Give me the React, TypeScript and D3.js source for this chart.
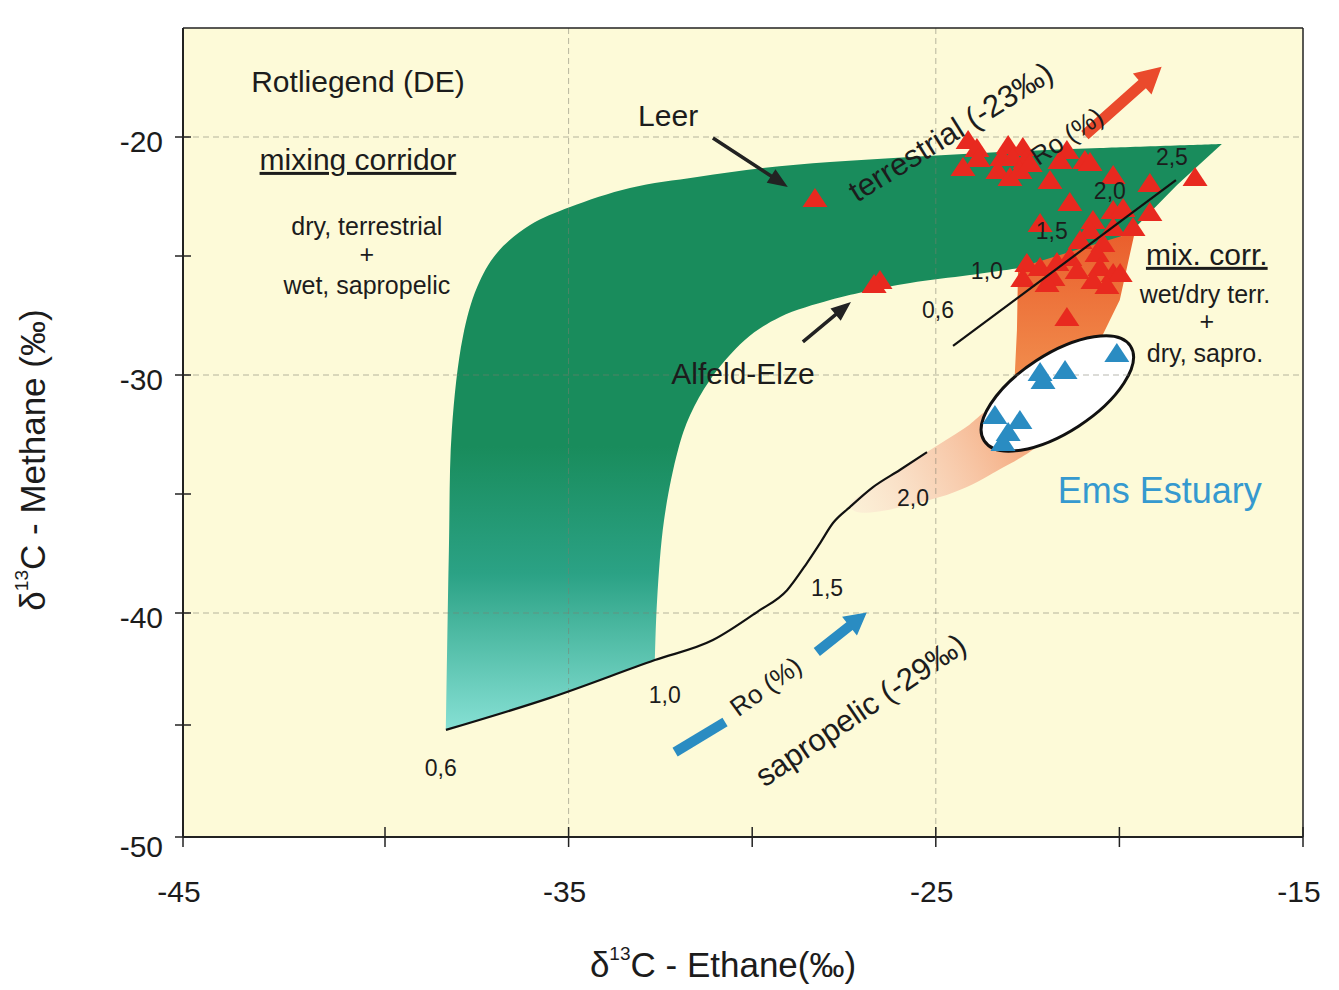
import * as d3 from 'd3'

type P = [number, number]

// axis breaks (the scan is slightly stretched)
const X_DOMAIN = [-45, -40, -15]
const Y_DOMAIN = [-50, -40, -15.42]
const X_TICKS = [-45, -40, -35, -30, -25, -20, -15]
const X_TICK_LABELS = [-45, -35, -25, -15]
const Y_TICKS = [-50, -45, -40, -35, -30, -25, -20]
const Y_TICK_LABELS = [-50, -40, -30, -20]
const GRID_X = [-35, -25]
const GRID_Y = [-40, -30, -20]

// Rotliegend (DE) gases: d13C ethane, d13C methane
const ROTLIEGEND_GAS: P[] = [
  [-24.12, -20.13], [-23.88, -20.46], [-23.85, -20.88], [-24.26, -21.26],
  [-23.03, -20.34], [-22.63, -20.42], [-23.2, -20.84], [-22.9, -20.84],
  [-22.57, -20.97], [-23.31, -21.39], [-22.98, -21.68], [-22.71, -21.39],
  [-22.43, -21.09], [-21.43, -20.55], [-21.62, -20.97], [-20.94, -20.97],
  [-21.89, -21.81], [-21.35, -22.73], [-22.16, -23.61], [-20.8, -21.05],
  [-20.17, -21.6], [-19.17, -21.93], [-17.94, -21.68], [-20.72, -23.49],
  [-20.17, -23.07], [-19.9, -22.98], [-19.17, -23.15], [-20.8, -23.91],
  [-20.17, -23.78], [-19.63, -23.78], [-21.07, -24.33], [-20.45, -24.45],
  [-22.52, -25.29], [-22.16, -25.46], [-22.63, -25.92], [-21.7, -25.25],
  [-21.35, -25.04], [-21.15, -25.59], [-20.61, -24.87], [-20.53, -25.46],
  [-20.17, -25.71], [-19.98, -25.71], [-20.72, -26.01], [-20.34, -26.22],
  [-21.81, -25.88], [-21.97, -26.13], [-21.43, -27.56],
  [-28.29, -22.56], // Leer
  [-26.52, -26.01], [-26.68, -26.18], // Alfeld-Elze
]

// Ems Estuary gases
const EMS_GAS: P[] = [
  [-20.07, -29.08], [-22.16, -29.87], [-22.08, -30.21], [-21.48, -29.79],
  [-23.39, -31.68], [-22.71, -31.89], [-23.03, -32.39], [-23.17, -32.82],
]

// green mixing corridor: outer edge, right end, inner edge
const CORRIDOR_OUTER: P[] = [
  [-38.34, -45.22], [-38.26, -37.35], [-38.18, -32.31], [-37.88, -28.4],
  [-37.49, -26.3], [-36.95, -24.87], [-36.05, -23.7], [-34.96, -22.94],
  [-33.33, -22.14], [-31.5, -21.68], [-29.71, -21.3], [-27.88, -21.05],
  [-25.7, -20.84], [-23.25, -20.63], [-20.53, -20.46], [-17.21, -20.29],
]
const CORRIDOR_END: P[] = [
  [-17.21, -20.29], [-18.43, -22.02], [-19.58, -23.82], [-20.53, -24.75],
  [-21.62, -25.25], [-22.71, -25.5],
]
const CORRIDOR_INNER: P[] = [
  [-22.71, -25.5], [-24.07, -25.8], [-25.7, -26.13], [-26.98, -26.51],
  [-27.88, -26.85], [-29.24, -27.56], [-30.2, -28.53], [-31.15, -30.21],
  [-31.69, -31.68], [-32.02, -33.15], [-32.4, -36.09], [-32.59, -39.46],
  [-32.65, -42.1],
]

// sapropelic maturity trend and its Ro (%) marks
const SAPROPELIC_TREND: P[] = [
  [-38.34, -45.22], [-35.51, -43.79], [-32.65, -42.1], [-31.07, -41.21],
  [-29.87, -39.96], [-29.05, -39.04], [-28.51, -37.9], [-28.15, -37.06],
  [-27.8, -36.22], [-27.34, -35.55], [-26.71, -34.71], [-25.98, -33.99],
  [-25.24, -33.24],
]
const SAPROPELIC_RO = ['0,6', '1,0', '1,5', '2,0']
const SAPROPELIC_RO_AT: P[] = [[-38.48, -47.01], [-32.38, -43.75], [-27.96, -39.04], [-25.62, -35.25]]

// terrestrial maturity trend and its Ro (%) marks
const TERRESTRIAL_TREND: P[] = [[-24.53, -28.78], [-18.46, -21.81]]
const TERRESTRIAL_RO = ['0,6', '1,0', '1,5', '2,0', '2,5']
const TERRESTRIAL_RO_AT: P[] = [[-24.94, -27.35], [-23.61, -25.71], [-21.84, -24.03], [-20.26, -22.35], [-18.57, -20.92]]

// wet/dry terrestrial + dry sapropelic corridor
const MIXED_CORRIDOR: P[] = [
  [-22.76, -25.5], [-19.58, -23.99], [-19.99, -26.85], [-20.59, -28.74],
  [-21.62, -30.21], [-22.71, -31.47], [-23.25, -31.81], [-22.85, -30.0],
  [-22.79, -28.11],
]
const MIXED_TAIL: P[] = [
  [-23.25, -31.26], [-22.03, -32.52], [-23.53, -34.2], [-24.89, -35.13],
  [-27.15, -35.76], [-27.34, -35.46], [-26.71, -34.71], [-25.24, -33.24],
  [-24.21, -32.23],
]
const EMS_ENVELOPE: P[] = [[-23.68, -32.77], [-19.7, -28.78]]

// arrows: from, to
const RED_RO_ARROW: P[] = [[-20.94, -19.92], [-18.85, -17.05]]
const BLUE_RO_DASH: P[] = [[-32.1, -46.21], [-30.74, -44.87]]
const BLUE_RO_ARROW: P[] = [[-28.24, -41.74], [-26.88, -39.98]]
const LEER_ARROW: P[] = [[-31.07, -20.04], [-29.03, -22.1]]
const ALFELD_ARROW: P[] = [[-28.62, -28.61], [-27.31, -26.93]]

const FONT = '"Liberation Sans", Arial, sans-serif'
const INK = '#1c1c1c'

function arrowPoints(a: P, b: P, bodyW: number, headL: number, headW: number) {
  const dx = b[0] - a[0]
  const dy = b[1] - a[1]
  const len = Math.hypot(dx, dy)
  const ux = dx / len
  const uy = dy / len
  const nx = -uy
  const ny = ux
  const bx = b[0] - ux * headL
  const by = b[1] - uy * headL
  const pts: P[] = [
    [a[0] + (nx * bodyW) / 2, a[1] + (ny * bodyW) / 2],
    [bx + (nx * bodyW) / 2, by + (ny * bodyW) / 2],
    [bx + (nx * headW) / 2, by + (ny * headW) / 2],
    [b[0], b[1]],
    [bx - (nx * headW) / 2, by - (ny * headW) / 2],
    [bx - (nx * bodyW) / 2, by - (ny * bodyW) / 2],
    [a[0] - (nx * bodyW) / 2, a[1] - (ny * bodyW) / 2],
  ]
  return pts.map((p) => p.join(',')).join(' ')
}

function triangle(cx: number, cy: number) {
  return `M${cx},${cy - 10}L${cx + 12.5},${cy + 9}L${cx - 12.5},${cy + 9}Z`
}

export default function App() {
  const width = 1339
  const height = 990
  const x = d3.scaleLinear(X_DOMAIN, [183, 385, 1303])
  const y = d3.scaleLinear(Y_DOMAIN, [837, 613, 28])
  const x0 = x(-45)
  const x1 = x(-15)
  const yBottom = y(-50)
  const yTop = y(-15.42)

  const px = (p: P): P => [x(p[0]), y(p[1])]
  const smooth = d3.line<P>().x((d) => x(d[0])).y((d) => y(d[1])).curve(d3.curveCatmullRom.alpha(0.5))
  const straight = d3.line<P>().x((d) => x(d[0])).y((d) => y(d[1]))
  const trend = d3.line<P>().x((d) => x(d[0])).y((d) => y(d[1])).curve(d3.curveMonotoneX)

  const bottomEdge = SAPROPELIC_TREND.slice(0, 3).reverse()
  const corridorPath =
    (smooth(CORRIDOR_OUTER) ?? '') +
    (straight(CORRIDOR_END) ?? '').replace(/^M/, 'L') +
    (smooth(CORRIDOR_INNER) ?? '').replace(/^M/, 'L') +
    (straight(bottomEdge) ?? '').replace(/^M/, 'L') +
    'Z'

  const mixedPath = d3.line<P>().x((d) => x(d[0])).y((d) => y(d[1])).curve(d3.curveLinearClosed)(MIXED_CORRIDOR) ?? ''
  const tailPath = d3.line<P>().x((d) => x(d[0])).y((d) => y(d[1])).curve(d3.curveCatmullRomClosed.alpha(0.5))(MIXED_TAIL) ?? ''

  const [e1, e2] = EMS_ENVELOPE.map(px)
  const ecx = (e1[0] + e2[0]) / 2
  const ecy = (e1[1] + e2[1]) / 2
  const erx = Math.hypot(e2[0] - e1[0], e2[1] - e1[1]) / 2
  const eAngle = (Math.atan2(e2[1] - e1[1], e2[0] - e1[0]) * 180) / Math.PI

  const [tailA, tailB] = [px([-22.9, -32.4]), px([-27.2, -35.7])]

  const label = (p: P) => ({ x: x(p[0]), y: y(p[1]) })

  return (
    <svg
      width={width}
      height={height}
      style={{ position: 'absolute', left: 0, top: 0, background: '#fff', fontFamily: FONT }}
    >
      <defs>
        <linearGradient id="corridorFill" gradientUnits="userSpaceOnUse" x1={0} y1={y(-33)} x2={0} y2={y(-45.2)}>
          <stop offset="0" stopColor="#198c5c" />
          <stop offset="0.45" stopColor="#2ba285" />
          <stop offset="1" stopColor="#86e0d4" />
        </linearGradient>
        <linearGradient id="mixedFill" gradientUnits="userSpaceOnUse" x1={0} y1={y(-24)} x2={0} y2={y(-31)}>
          <stop offset="0" stopColor="#ea5e2c" />
          <stop offset="1" stopColor="#f29452" />
        </linearGradient>
        <linearGradient id="tailFill" gradientUnits="userSpaceOnUse" x1={tailA[0]} y1={tailA[1]} x2={tailB[0]} y2={tailB[1]}>
          <stop offset="0" stopColor="#f4a478" stopOpacity="0.9" />
          <stop offset="0.55" stopColor="#f6bfa8" stopOpacity="0.6" />
          <stop offset="1" stopColor="#f7d0cf" stopOpacity="0.25" />
        </linearGradient>
      </defs>

      {/* plot area */}
      <rect x={x0} y={yTop} width={x1 - x0} height={yBottom - yTop} fill="#fdfad8" />

      {/* mixing corridor */}
      <path d={corridorPath} fill="url(#corridorFill)" />
      <path d={mixedPath} fill="url(#mixedFill)" />
      <path d={tailPath} fill="url(#tailFill)" />

      {/* Ems Estuary envelope */}
      <ellipse
        cx={ecx}
        cy={ecy}
        rx={erx}
        ry={39}
        transform={`rotate(${eAngle} ${ecx} ${ecy})`}
        fill="#ffffff"
        stroke="#111"
        strokeWidth={3}
      />

      {/* grid */}
      <g stroke="#7d7d70" strokeOpacity={0.55} strokeDasharray="6,4" strokeWidth={1}>
        {GRID_X.map((v) => (
          <line key={`gx${v}`} x1={x(v)} x2={x(v)} y1={yTop} y2={yBottom} />
        ))}
        {GRID_Y.map((v) => (
          <line key={`gy${v}`} x1={x0} x2={x1} y1={y(v)} y2={y(v)} />
        ))}
      </g>

      {/* samples */}
      <g fill="#e8291f">
        {ROTLIEGEND_GAS.map((d, i) => (
          <path key={`r${i}`} d={triangle(x(d[0]), y(d[1]))} />
        ))}
      </g>
      <g fill="#2a8cc2">
        {EMS_GAS.map((d, i) => (
          <path key={`b${i}`} d={triangle(x(d[0]), y(d[1]))} />
        ))}
      </g>

      {/* maturity trends */}
      <path d={trend(SAPROPELIC_TREND) ?? ''} fill="none" stroke="#111" strokeWidth={2.2} />
      <path d={straight(TERRESTRIAL_TREND) ?? ''} fill="none" stroke="#111" strokeWidth={2.2} />
      <g fontSize={23} fill={INK} textAnchor="middle" dominantBaseline="middle">
        {SAPROPELIC_RO.map((t, i) => (
          <text key={`s${t}`} {...label(SAPROPELIC_RO_AT[i])}>{t}</text>
        ))}
        {TERRESTRIAL_RO.map((t, i) => (
          <text key={`t${t}`} {...label(TERRESTRIAL_RO_AT[i])}>{t}</text>
        ))}
      </g>

      {/* arrows */}
      <polygon points={arrowPoints(px(RED_RO_ARROW[0]), px(RED_RO_ARROW[1]), 11, 26, 28)} fill="#ea4a2c" />
      <polygon points={arrowPoints(px(BLUE_RO_ARROW[0]), px(BLUE_RO_ARROW[1]), 10, 22, 24)} fill="#2a8cc2" />
      <line
        x1={x(BLUE_RO_DASH[0][0])}
        y1={y(BLUE_RO_DASH[0][1])}
        x2={x(BLUE_RO_DASH[1][0])}
        y2={y(BLUE_RO_DASH[1][1])}
        stroke="#2a8cc2"
        strokeWidth={10}
      />
      <polygon points={arrowPoints(px(LEER_ARROW[0]), px(LEER_ARROW[1]), 3.5, 20, 16)} fill="#222" />
      <polygon points={arrowPoints(px(ALFELD_ARROW[0]), px(ALFELD_ARROW[1]), 3.5, 20, 16)} fill="#222" />

      {/* annotations */}
      <g fill={INK} textAnchor="middle" dominantBaseline="middle">
        <text {...label([-40.67, -17.77])} fontSize={30}>Rotliegend (DE)</text>
        <text {...label([-40.67, -21.05])} fontSize={30} textDecoration="underline">mixing corridor</text>
        <text {...label([-40.45, -23.82])} fontSize={25}>dry, terrestrial</text>
        <text {...label([-40.45, -25.0])} fontSize={25}>+</text>
        <text {...label([-40.45, -26.3])} fontSize={25}>wet, sapropelic</text>
        <text {...label([-32.29, -19.2])} fontSize={30}>Leer</text>
        <text {...label([-30.25, -30.04])} fontSize={30}>Alfeld-Elze</text>
        <text {...label([-17.62, -25.04])} fontSize={30} textDecoration="underline">mix. corr.</text>
        <text {...label([-17.67, -26.68])} fontSize={25}>wet/dry terr.</text>
        <text {...label([-17.62, -27.82])} fontSize={25}>+</text>
        <text {...label([-17.67, -29.16])} fontSize={25}>dry, sapro.</text>
        <text {...label([-18.9, -34.96])} fontSize={36} fill="#3599cf">Ems Estuary</text>
        <text
          {...label([-24.56, -19.87])}
          fontSize={31}
          transform={`rotate(-32 ${x(-24.56)} ${y(-19.87)})`}
        >
          terrestrial (-23‰)
        </text>
        <text
          {...label([-21.4, -20.04])}
          fontSize={26}
          transform={`rotate(-34 ${x(-21.4)} ${y(-20.04)})`}
        >
          Ro (%)
        </text>
        <text
          {...label([-29.6, -43.35])}
          fontSize={26}
          transform={`rotate(-36 ${x(-29.6)} ${y(-43.35)})`}
        >
          Ro (%)
        </text>
        <text
          {...label([-27.01, -44.42])}
          fontSize={31}
          transform={`rotate(-34 ${x(-27.01)} ${y(-44.42)})`}
        >
          sapropelic (-29‰)
        </text>
      </g>

      {/* frame */}
      <g fill="none" stroke="#222">
        <line x1={x0} x2={x1} y1={yTop} y2={yTop} strokeWidth={1.5} />
        <line x1={x1} x2={x1} y1={yTop} y2={yBottom} strokeWidth={1.5} />
        <line x1={x0} x2={x0} y1={yTop} y2={yBottom} strokeWidth={2} />
        <line x1={x0} x2={x1} y1={yBottom} y2={yBottom} strokeWidth={2} />
      </g>

      {/* axes */}
      <g stroke="#222" strokeWidth={1.5}>
        {X_TICKS.map((v) => (
          <line key={`xt${v}`} x1={x(v)} x2={x(v)} y1={yBottom - 10} y2={yBottom + 10} />
        ))}
        {Y_TICKS.map((v) => (
          <line key={`yt${v}`} x1={x0 - 8} x2={x0 + 8} y1={y(v)} y2={y(v)} />
        ))}
      </g>
      <g fontSize={30} fill={INK}>
        {X_TICK_LABELS.map((v) => (
          <text key={`xl${v}`} x={x(v) - 4} y={yBottom + 57} textAnchor="middle" dominantBaseline="middle">
            {v}
          </text>
        ))}
        {Y_TICK_LABELS.map((v) => (
          <text
            key={`yl${v}`}
            x={x0 - 20}
            y={y(v) + (v === -50 ? 12 : 7)}
            textAnchor="end"
            dominantBaseline="middle"
          >
            {v}
          </text>
        ))}
      </g>

      <text x={723} y={968} fontSize={35} fill={INK} textAnchor="middle" dominantBaseline="middle">
        δ<tspan fontSize={19} dy={-13}>13</tspan>
        <tspan dy={13}>C - Ethane(‰)</tspan>
      </text>
      <text
        x={36}
        y={460}
        fontSize={35}
        fill={INK}
        textAnchor="middle"
        dominantBaseline="middle"
        transform="rotate(-90 36 460)"
      >
        δ<tspan fontSize={19} dy={-13}>13</tspan>
        <tspan dy={13}>C - Methane (‰)</tspan>
      </text>
    </svg>
  )
}
